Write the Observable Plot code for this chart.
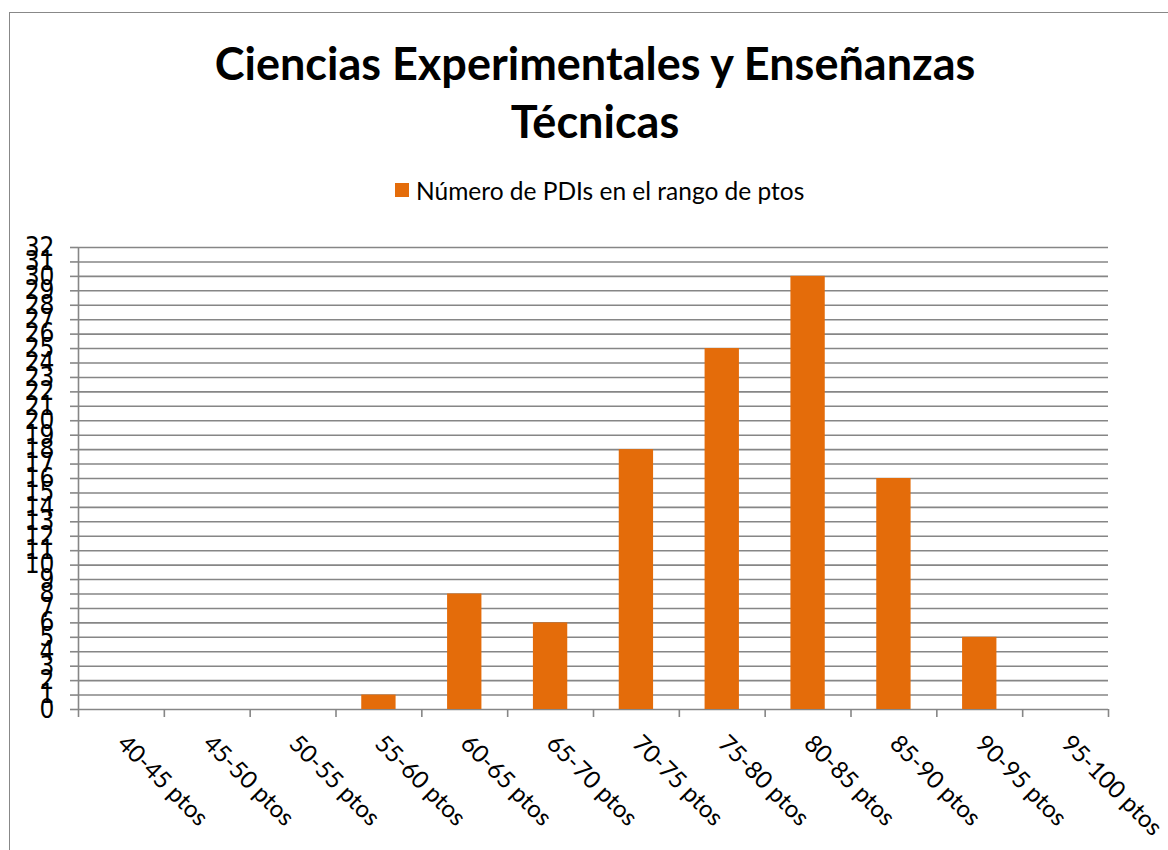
<!DOCTYPE html>
<html>
<head>
<meta charset="utf-8">
<script src="https://cdn.jsdelivr.net/npm/d3@7"></script>
<script src="https://cdn.jsdelivr.net/npm/@observablehq/plot@0.6"></script>
<style>
  html, body { margin: 0; padding: 0; background: #fff; }
  body { width: 1168px; height: 850px; overflow: hidden; position: relative; font-family: Lato, "Open Sans", sans-serif; }
  #frame { position: absolute; left: 9px; top: 12px; width: 1300px; height: 1000px; border: 1.5px solid #888; box-sizing: border-box; }
  #title { position: absolute; left: 0; top: 34px; width: 1190px; text-align: center; font-weight: bold; font-size: 45px; line-height: 58px; color: #000; }
  #legend { position: absolute; left: 395px; top: 176px; height: 28px; display: flex; align-items: center; font-size: 24.5px; color: #000; white-space: nowrap; }
  #legend .sw { width: 14px; height: 14px; background: #E46C0A; margin-right: 7px; }
  #chart { position: absolute; left: 0; top: 230px; }
</style>
</head>
<body>
<div id="frame"></div>
<div id="title">Ciencias Experimentales y Enseñanzas<br>Técnicas</div>
<div id="legend"><div class="sw"></div><span>Número de PDIs en el rango de ptos</span></div>
<div id="chart"></div>
<script>
const categories = ["40-45 ptos","45-50 ptos","50-55 ptos","55-60 ptos","60-65 ptos","65-70 ptos","70-75 ptos","75-80 ptos","80-85 ptos","85-90 ptos","90-95 ptos","95-100 ptos"];
const values = [0, 0, 0, 1, 8, 6, 18, 25, 30, 16, 5, 0];
const yTicks = d3.range(0, 33);

const data = categories.map((c, i) => ({category: c, index: i, value: values[i]}));
const gridColor = "#868686";
const orange = "#E46C0A";

const chart = Plot.plot({
  width: 1168,
  height: 620,
  marginLeft: 78,
  marginRight: 60,
  marginTop: 17,
  marginBottom: 141,
  x: {type: "linear", domain: [0, categories.length], axis: null, label: null},
  y: {domain: [0, 32], axis: null, label: null},
  style: {background: "transparent", overflow: "visible"},
  marks: [
    Plot.ruleY(yTicks, {y: d => d, stroke: gridColor, strokeWidth: 1.6, strokeOpacity: 1}),
    Plot.rectY(data, {x1: d => d.index + 0.3, x2: d => d.index + 0.7, y1: 0, y2: "value", fill: orange}),
    Plot.ruleX([0], {x: d => d, y1: 0, y2: 32, stroke: gridColor, strokeWidth: 1.6}),
    Plot.axisY({ticks: yTicks, tickSize: 8, tickPadding: 16, stroke: gridColor, strokeWidth: 1.6, label: null,
      fontSize: 26, fill: "#000", fontFamily: "'Liberation Sans Narrow', 'DejaVu Sans Condensed', sans-serif", tickFormat: d => String(d)}),
    Plot.axisX({ticks: d3.range(0, categories.length + 1), tickSize: 8, stroke: gridColor, strokeWidth: 1.6, label: null, tickFormat: () => ""}),
    Plot.text(data, {x: d => d.index + 0.5, y: 0, text: "category", rotate: 45, textAnchor: "start",
      dx: 0, dy: 30, fontSize: 24, fill: "#000", fontFamily: "Lato, 'Open Sans', sans-serif"})
  ]
});
document.getElementById("chart").appendChild(chart);
</script>
</body>
</html>
